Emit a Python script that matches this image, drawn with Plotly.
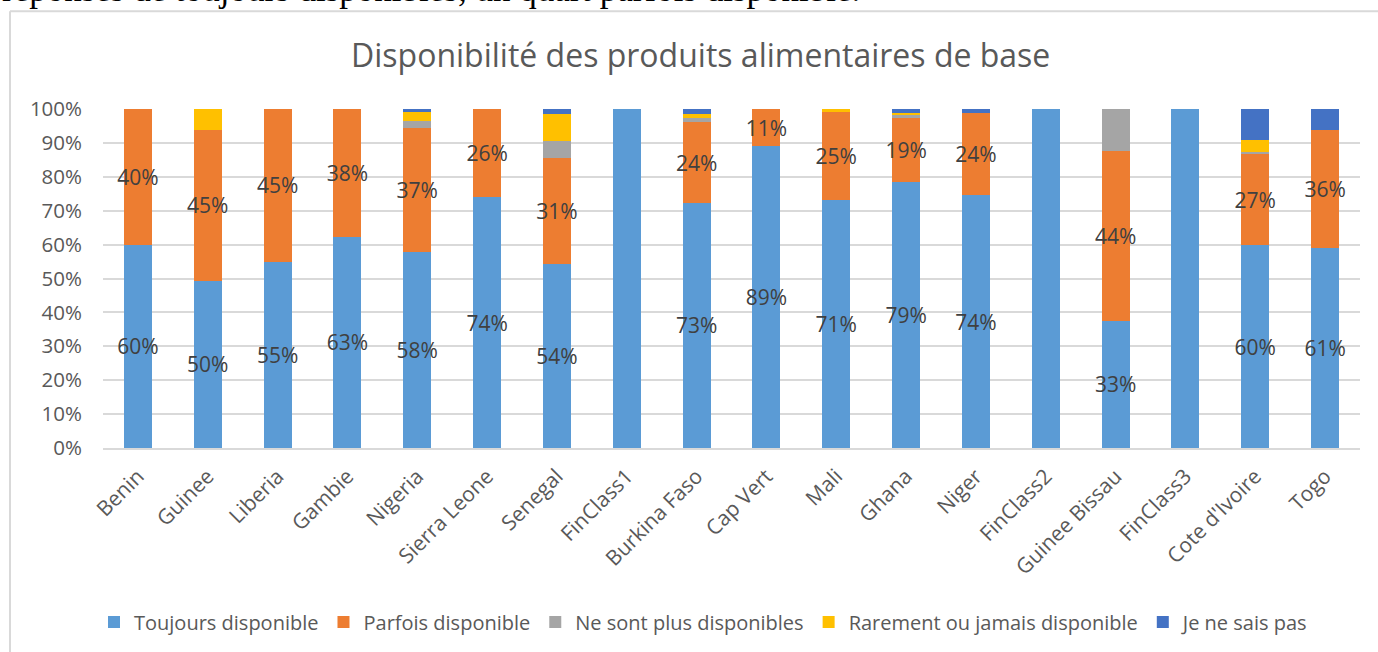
import plotly.graph_objects as go

# ---- data -------------------------------------------------------------
categories = ["Benin", "Guinee", "Liberia", "Gambie", "Nigeria", "Sierra Leone",
              "Senegal", "FinClass1", "Burkina Faso", "Cap Vert", "Mali", "Ghana",
              "Niger", "FinClass2", "Guinee Bissau", "FinClass3", "Cote d'Ivoire", "Togo"]

toujours = [60, 50, 55, 63, 58, 74, 54, 100, 73, 89, 71, 79, 74, 100, 33, 100, 60, 61]
parfois = [40, 45, 45, 38, 37, 26, 31, 0, 24, 11, 25, 19, 24, 0, 44, 0, 27, 36]
plus_disponibles = [0, 0, 0, 0, 2, 0, 5, 0, 1.3, 0, 0, 0.7, 0, 0, 11, 0, 0.6, 0]
rarement = [0, 6.3, 0, 0, 2.5, 0, 8, 0, 1.3, 0, 1, 0.6, 0, 0, 0, 0, 3.4, 0]
ne_sait_pas = [0, 0, 0, 0, 1, 0, 1.5, 0, 1.4, 0, 0, 1.3, 1.2, 0, 0, 0, 9.3, 6.5]

series_names = ["Toujours disponible", "Parfois disponible", "Ne sont plus disponibles",
                "Rarement ou jamais disponible", "Je ne sais pas"]
series_colors = ["#5B9BD5", "#ED7D31", "#A5A5A5", "#FFC000", "#4472C4"]
y_ticks = [0, 10, 20, 30, 40, 50, 60, 70, 80, 90, 100]

title_text = "Disponibilité des produits alimentaires de base"
caption_text = "réponses de toujours disponibles, un quart parfois disponible."

# ---- layout geometry (pixels) ------------------------------------------
FIG_W, FIG_H = 1378, 652
PLOT_L, PLOT_R, PLOT_T, PLOT_B = 103, 1360, 109, 449
PW, PH = PLOT_R - PLOT_L, PLOT_B - PLOT_T


def px_x(px):
    return (px - PLOT_L) / PW


def px_y(py):
    return (PLOT_B - py) / PH


FONT = "Open Sans, Segoe UI, sans-serif"
GREY_TXT = "#595959"
LABEL_TXT = "#404040"
GRID = "#D9D9D9"

labelled = [not c.startswith("FinClass") for c in categories]


def labels_for(values):
    return [f"{v:g}%" if (show and v > 0) else "" for v, show in zip(values, labelled)]


fig = go.Figure()
all_series = [toujours, parfois, plus_disponibles, rarement, ne_sait_pas]
for i, (name, color, vals) in enumerate(zip(series_names, series_colors, all_series)):
    has_text = i < 2
    fig.add_trace(go.Bar(
        x=categories,
        y=vals,
        name=name,
        marker=dict(color=color, line=dict(width=0)),
        text=labels_for(vals) if has_text else None,
        textposition="inside" if has_text else "none",
        insidetextanchor="middle",
        textangle=0,
        constraintext="none",
        textfont=dict(family=FONT, size=21, color=LABEL_TXT),
        hoverinfo="x+y+name",
    ))

fig.update_layout(
    width=FIG_W, height=FIG_H,
    margin=dict(l=PLOT_L, r=FIG_W - PLOT_R, t=PLOT_T, b=FIG_H - PLOT_B, pad=0),
    barmode="stack",
    barnorm="percent",
    bargap=0.6,
    paper_bgcolor="white",
    plot_bgcolor="white",
    font=dict(family=FONT, color=GREY_TXT, size=20),
    showlegend=True,
    legend=dict(
        orientation="h",
        x=px_x(704), xanchor="center",
        y=px_y(622), yanchor="middle",
        font=dict(family=FONT, size=20, color=GREY_TXT),
        itemwidth=30,
        traceorder="normal",
        bgcolor="rgba(0,0,0,0)",
    ),
    xaxis=dict(
        type="category",
        tickangle=-45,
        showgrid=False,
        showline=True, linecolor=GRID, linewidth=1.5,
        ticks="",
        tickfont=dict(family=FONT, size=21, color=GREY_TXT),
        ticklabelstandoff=6,
    ),
    yaxis=dict(
        range=[0, 100],
        tickvals=y_ticks,
        ticktext=[f"{t}%" for t in y_ticks],
        showgrid=True, gridcolor=GRID, gridwidth=1.5,
        zeroline=False,
        showline=False,
        ticks="",
        tickfont=dict(family=FONT, size=20.5, color=GREY_TXT),
        ticklabelstandoff=20,
    ),
    annotations=[
        dict(text=title_text, xref="paper", yref="paper",
             x=px_x(700), y=px_y(54), xanchor="center", yanchor="middle",
             showarrow=False, font=dict(family=FONT, size=32, color=GREY_TXT)),
        dict(text=caption_text, xref="paper", yref="paper",
             x=px_x(0), y=px_y(11), xanchor="left", yanchor="bottom",
             showarrow=False,
             font=dict(family="Times New Roman, Liberation Serif, serif", size=35, color="black")),
    ],
    shapes=[
        dict(type="line", xref="paper", yref="paper", layer="below",
             x0=px_x(10), x1=px_x(FIG_W + 5), y0=px_y(11), y1=px_y(11),
             line=dict(color=GRID, width=2)),
        dict(type="line", xref="paper", yref="paper", layer="below",
             x0=px_x(10), x1=px_x(10), y0=px_y(11), y1=px_y(FIG_H + 5),
             line=dict(color=GRID, width=2)),
    ],
)

fig.write_html("out.html")
